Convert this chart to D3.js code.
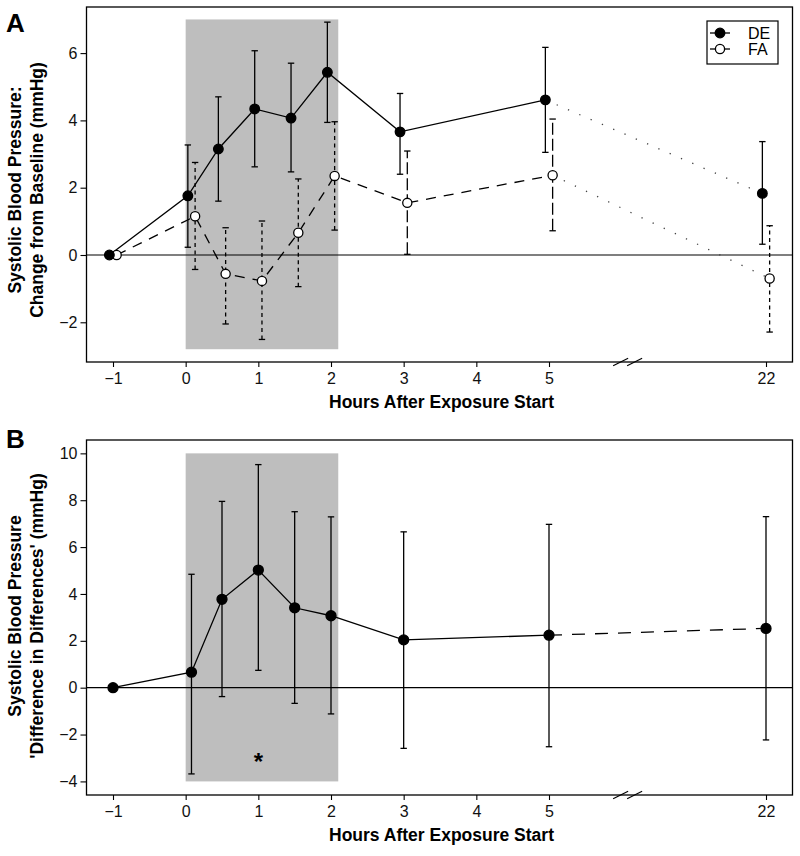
<!DOCTYPE html>
<html>
<head>
<meta charset="utf-8">
<script src="https://cdn.jsdelivr.net/npm/d3@7"></script>
<style>
  html, body { margin: 0; padding: 0; background: #fff; }
  svg { display: block; font-family: "Liberation Sans", Arial, Helvetica, sans-serif; }
</style>
</head>
<body>
<svg id="chart" width="800" height="856"></svg>
<script>
// ---------------- data ----------------
const timeTicks = [-1, 0, 1, 2, 3, 4, 5, 22];
const times = [-1, 0.08, 0.5, 1, 1.5, 2, 3, 5, 22];

// Panel A: change from baseline (mmHg)
const deMean  = [0, 1.76, 3.15, 4.34, 4.07, 5.43, 3.66, 4.61, 1.83];
const deLower = [null, 0.23, 1.60, 2.62, 2.47, 3.94, 2.40, 3.05, 0.32];
const deUpper = [null, 3.27, 4.70, 6.07, 5.70, 6.92, 4.80, 6.17, 3.37];
const faMean  = [0, 1.15, -0.56, -0.77, 0.66, 2.35, 1.55, 2.37, -0.70];
const faLower = [null, -0.43, -2.05, -2.51, -0.94, 0.74, 0.02, 0.72, -2.29];
const faUpper = [null, 2.75, 0.81, 1.01, 2.26, 3.96, 3.09, 4.04, 0.87];
const yTicksA = [-2, 0, 2, 4, 6];

// Panel B: difference in differences (mmHg)
const didMean  = [0, 0.66, 3.77, 5.02, 3.41, 3.07, 2.04, 2.24, 2.53];
const didLower = [null, -3.68, -0.38, 0.74, -0.67, -1.12, -2.59, -2.52, -2.23];
const didUpper = [null, 4.84, 7.95, 9.52, 7.51, 7.29, 6.65, 6.97, 7.30];
const yTicksB = [-4, -2, 0, 2, 4, 6, 8, 10];

const exposureWindow = [0, 2.1];
const seriesNames = ["DE", "FA"];
const significantTimes = [1];

const xTitle = "Hours After Exposure Start";
const yTitleA = ["Systolic Blood Pressure:", "Change from Baseline (mmHg)"];
const yTitleB = ["Systolic Blood Pressure", "'Difference in Differences' (mmHg)"];

// ---------------- layout ----------------
const svg = d3.select("#chart");
const FONT_TICK = 16, FONT_TITLE = 17.5;

const x = d3.scaleLinear().domain([-1, 5, 22]).range([113, 549, 766]);
const boxL = 86.5, boxR = 792.5;
const dodge = x(0.05) - x(0);

function rows(t, m, lo, hi) {
  return t.map((d, i) => ({ t: d, m: m[i], lo: lo[i], hi: hi[i] }));
}

function panel(opts) {
  const { top, bottom, yDomain, yTicks, shadeY, label, labelBase, title, titleCenter } = opts;
  const y = d3.scaleLinear().domain(yDomain).range([bottom, top]);
  const g = svg.append("g");

  g.append("rect")
    .attr("x", x(exposureWindow[0])).attr("width", x(exposureWindow[1]) - x(exposureWindow[0]))
    .attr("y", y(shadeY[1])).attr("height", y(shadeY[0]) - y(shadeY[1]))
    .attr("fill", "#bebebe");

  g.append("line").attr("x1", boxL).attr("x2", boxR).attr("y1", y(0)).attr("y2", y(0))
    .attr("stroke", "#000").attr("stroke-width", 1.2);

  const ax = g.append("g").attr("transform", `translate(0,${bottom})`)
    .call(d3.axisBottom(x).tickValues(timeTicks).tickSize(5).tickSizeOuter(0).tickFormat(d3.format("d")));
  ax.select(".domain").remove();
  ax.selectAll("text").attr("y", 22).attr("dy", 0).attr("font-size", FONT_TICK).attr("font-family", null).attr("fill", "#111");
  ax.selectAll("line").attr("stroke-width", 1.1);

  const ay = g.append("g").attr("transform", `translate(${boxL},0)`)
    .call(d3.axisLeft(y).tickValues(yTicks).tickSize(6).tickSizeOuter(0).tickFormat(d3.format("d")));
  ay.select(".domain").remove();
  ay.selectAll("text").attr("x", -9).attr("font-size", FONT_TICK).attr("font-family", null).attr("fill", "#111");
  ay.selectAll("line").attr("stroke-width", 1.1);

  g.append("rect").attr("x", boxL).attr("y", top).attr("width", boxR - boxL).attr("height", bottom - top)
    .attr("fill", "none").attr("stroke", "#000").attr("stroke-width", 1.3);

  const bx = x(5) + (x(22) - x(5)) * 0.33;
  [0, 14].forEach(off => {
    g.append("line")
      .attr("x1", bx - 7.5 + off).attr("y1", bottom + 3.7)
      .attr("x2", bx + 7.5 + off).attr("y2", bottom - 3.7)
      .attr("stroke", "#000").attr("stroke-width", 1.2);
  });

  g.append("text").attr("x", (boxL + boxR) / 2 + 2).attr("y", bottom + 46)
    .attr("text-anchor", "middle").attr("font-size", FONT_TITLE).attr("font-weight", "bold")
    .text(xTitle);
  title.forEach((s, i) => {
    g.append("text")
      .attr("transform", `translate(${20.5 + i * 22},${titleCenter}) rotate(-90)`)
      .attr("text-anchor", "middle").attr("font-size", FONT_TITLE).attr("font-weight", "bold")
      .text(s);
  });
  g.append("text").attr("x", 6).attr("y", labelBase).attr("font-size", 26).attr("font-weight", "bold").text(label);

  return { g, y };
}

function errorBars(g, y, data, dx, dashFn) {
  const d = data.filter(r => r.lo != null);
  const eg = g.append("g").attr("stroke", "#000").attr("stroke-width", 1.3).attr("fill", "none");
  d.forEach(r => {
    const cx = x(r.t) + dx;
    const dash = dashFn ? dashFn(r) : null;
    eg.append("line").attr("x1", cx).attr("x2", cx).attr("y1", y(r.lo)).attr("y2", y(r.hi))
      .attr("stroke-dasharray", dash);
    [r.lo, r.hi].forEach(v => eg.append("line").attr("x1", cx - 3.2).attr("x2", cx + 3.2)
      .attr("y1", y(v)).attr("y2", y(v)));
  });
}

function seriesLine(g, y, data, dx, mainDash, tailDash, tailColor) {
  const main = data.filter(r => r.t <= 5);
  const tail = data.filter(r => r.t >= 5);
  const line = d3.line().x(r => x(r.t) + dx).y(r => y(r.m));
  g.append("path").attr("d", line(main)).attr("fill", "none").attr("stroke", "#000")
    .attr("stroke-width", 1.3).attr("stroke-dasharray", mainDash);
  g.append("path").attr("d", line(tail)).attr("fill", "none").attr("stroke", tailColor || "#000")
    .attr("stroke-width", 1.3).attr("stroke-dasharray", tailDash);
}

function markers(g, y, data, dx, filled, r) {
  g.append("g").selectAll("circle").data(data).join("circle")
    .attr("cx", d => x(d.t) + dx).attr("cy", d => y(d.m)).attr("r", r)
    .attr("fill", filled ? "#000" : "#fff").attr("stroke", "#000").attr("stroke-width", 1.3);
}

// ---------------- Panel A ----------------
const A = panel({
  top: 7, bottom: 362, yDomain: [-3.18, 7.37], yTicks: yTicksA, shadeY: [-2.8, 7.0],
  label: "A", labelBase: 32, title: yTitleA, titleCenter: 190
});
const de = rows(times, deMean, deLower, deUpper);
const fa = rows(times, faMean, faLower, faUpper);
errorBars(A.g, A.y, de, -dodge, null);
errorBars(A.g, A.y, fa, dodge, r => (r.t === 3 || r.t === 5) ? "12,4" : "4,3.5");
seriesLine(A.g, A.y, fa, dodge, "10,8", "1.3,11", "#444");
seriesLine(A.g, A.y, de, -dodge, null, "1.3,11", "#444");
markers(A.g, A.y, fa, dodge, false, 4.6);
markers(A.g, A.y, de, -dodge, true, 4.8);

const lg = A.g.append("g");
lg.append("rect").attr("x", 707).attr("y", 21).attr("width", 71).attr("height", 43)
  .attr("fill", "#fff").attr("stroke", "#000").attr("stroke-width", 1.2);
seriesNames.forEach((name, i) => {
  const ly = 33 + i * 16;
  lg.append("line").attr("x1", 710).attr("x2", 730).attr("y1", ly).attr("y2", ly)
    .attr("stroke", "#000").attr("stroke-width", 1.3);
  lg.append("circle").attr("cx", 720).attr("cy", ly).attr("r", i === 0 ? 4.8 : 4.6)
    .attr("fill", i === 0 ? "#000" : "#fff").attr("stroke", "#000").attr("stroke-width", 1.3);
  lg.append("text").attr("x", 748).attr("y", ly + 5.5).attr("font-size", 16).text(name);
});

// ---------------- Panel B ----------------
const B = panel({
  top: 440, bottom: 795, yDomain: [-4.58, 10.57], yTicks: yTicksB, shadeY: [-4, 10],
  label: "B", labelBase: 448, title: yTitleB, titleCenter: 616
});
const did = rows(times, didMean, didLower, didUpper);
errorBars(B.g, B.y, did, 0, null);
seriesLine(B.g, B.y, did, 0, null, "13,10", "#000");
markers(B.g, B.y, did, 0, true, 5);
B.g.selectAll(null).data(significantTimes).join("text")
  .attr("x", d => x(d)).attr("y", B.y(-2.95) + 13)
  .attr("text-anchor", "middle").attr("font-size", 24).attr("font-weight", "bold").text("*");
</script>
</body>
</html>
